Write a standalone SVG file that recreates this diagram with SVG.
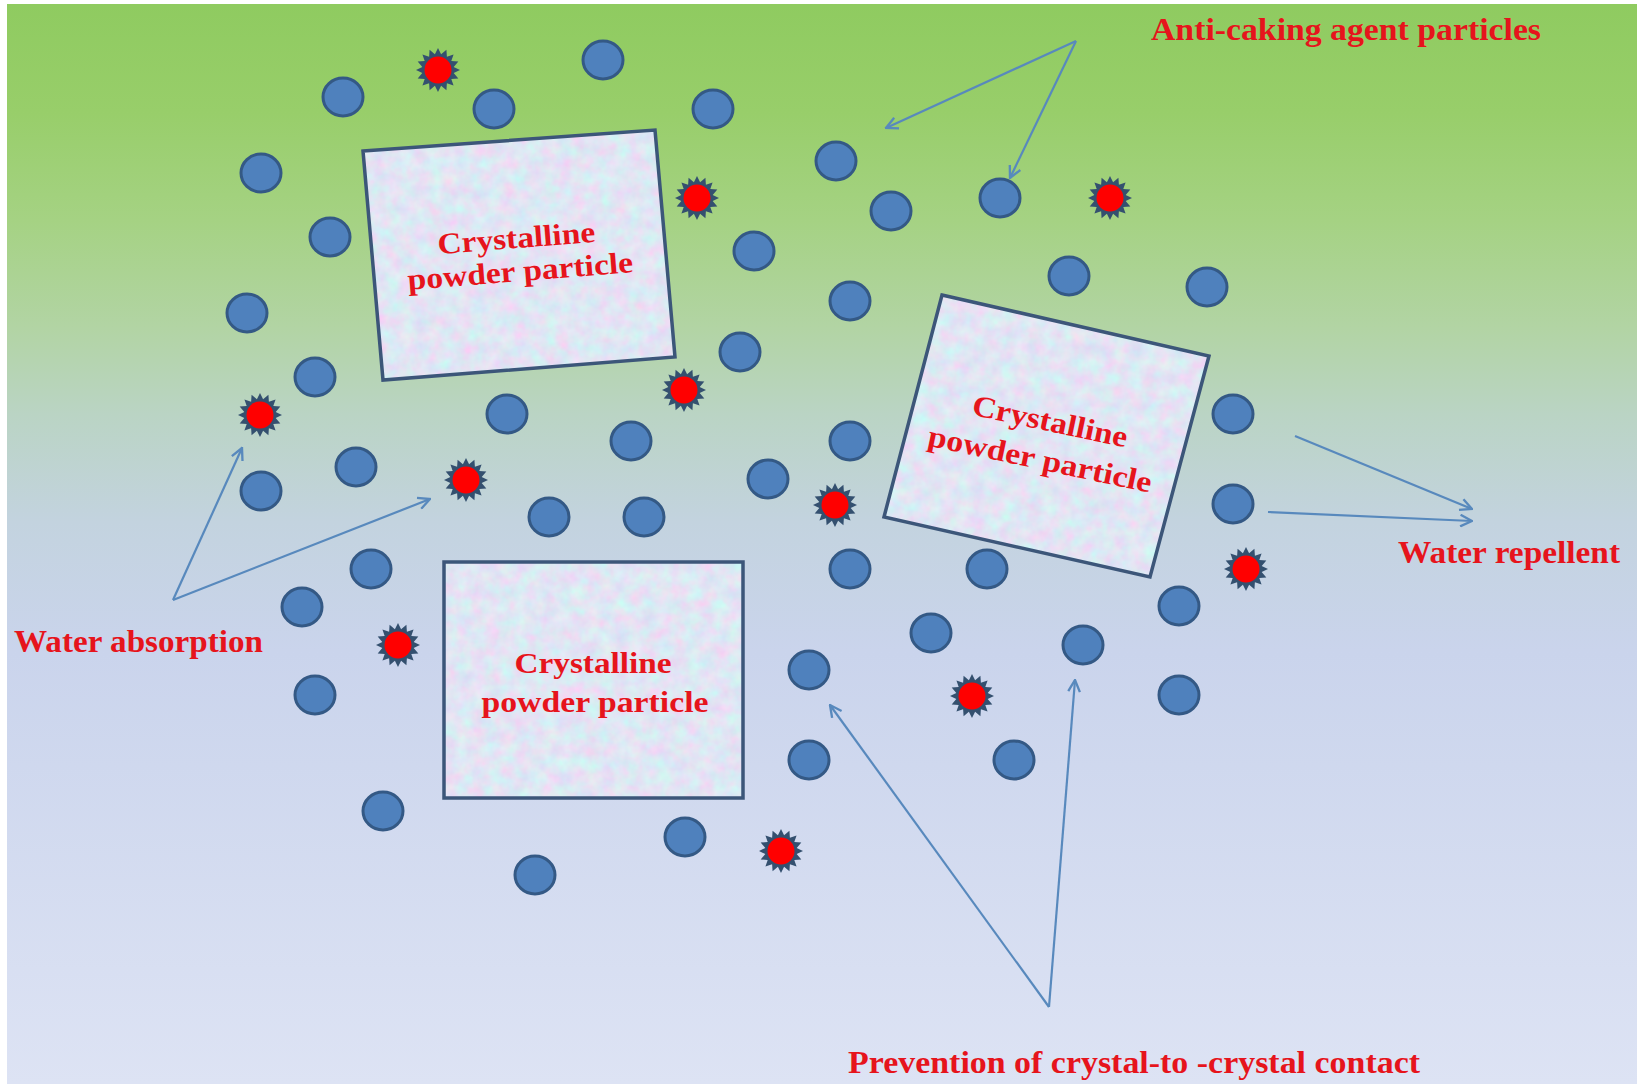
<svg xmlns="http://www.w3.org/2000/svg" xmlns:xlink="http://www.w3.org/1999/xlink" width="1637" height="1084" viewBox="0 0 1637 1084">
<defs>
<style>
.bg{fill:url(#bgGrad)}
.dot{fill:#4f81bd;stroke:#345985;stroke-width:3}
.spikes{fill:#34506f}
.core{fill:#ff0000}
.boxfill{filter:url(#tex);fill:#dde5f5}
.boxline{fill:none;stroke:#3c5679;stroke-width:3.5;stroke-linejoin:miter}
.lbl{font-family:"Liberation Serif","Times New Roman",serif;font-weight:bold;fill:#e6141c}
.box-t{font-size:30px;text-anchor:middle}
.big{font-size:31px}
.conn{fill:none;stroke:#5889bd;stroke-width:2.2;marker-end:url(#arr)}
</style>
<linearGradient id="bgGrad" gradientUnits="userSpaceOnUse" x1="0" y1="4" x2="0" y2="1084">
<stop offset="0" stop-color="#8fcb60"/>
<stop offset="0.1" stop-color="#98ce6a"/>
<stop offset="0.2" stop-color="#a5d283"/>
<stop offset="0.3" stop-color="#b2d4a4"/>
<stop offset="0.38" stop-color="#bad4c4"/>
<stop offset="0.48" stop-color="#c3d3df"/>
<stop offset="0.6" stop-color="#cad4ec"/>
<stop offset="1" stop-color="#dde3f4"/>
</linearGradient>
<filter id="tex" x="0" y="0" width="1" height="1" color-interpolation-filters="sRGB">
<feTurbulence type="fractalNoise" baseFrequency="0.07" numOctaves="3" seed="5" result="n"/>
<feColorMatrix in="n" type="matrix" values="0.2 -0.1 0 0 0.83  -0.08 0.18 0 0 0.85  0 0 0.05 0 0.93  0 0 0 0 1" result="c"/>
<feComposite in="c" in2="SourceGraphic" operator="in"/>
</filter>
<marker id="arr" viewBox="0 0 12 12" refX="11" refY="6" markerWidth="14" markerHeight="14" markerUnits="userSpaceOnUse" orient="auto">
<path d="M1,1 L11,6 L1,11" fill="none" stroke="#5889bd" stroke-width="2"/>
</marker>
<g id="star">
<polygon class="spikes" points="22,0 15.69,3.12 20.33,8.42 13.3,8.89 15.56,15.56 8.89,13.3 8.42,20.33 3.12,15.69 0,22 -3.12,15.69 -8.42,20.33 -8.89,13.3 -15.56,15.56 -13.3,8.89 -20.33,8.42 -15.69,3.12 -22,0 -15.69,-3.12 -20.33,-8.42 -13.3,-8.89 -15.56,-15.56 -8.89,-13.3 -8.42,-20.33 -3.12,-15.69 0,-22 3.12,-15.69 8.42,-20.33 8.89,-13.3 15.56,-15.56 13.3,-8.89 20.33,-8.42 15.69,-3.12"/>
<circle class="core" r="13.5"/>
</g>
</defs>

<rect x="0" y="0" width="1637" height="1084" fill="#ffffff"/>
<rect class="bg" x="7" y="4" width="1630" height="1080"/>

<g id="water-dots">
<ellipse class="dot" cx="603" cy="60" rx="20" ry="19"/>
<ellipse class="dot" cx="343" cy="97" rx="20" ry="19"/>
<ellipse class="dot" cx="494" cy="109" rx="20" ry="19"/>
<ellipse class="dot" cx="713" cy="109" rx="20" ry="19"/>
<ellipse class="dot" cx="261" cy="173" rx="20" ry="19"/>
<ellipse class="dot" cx="836" cy="161" rx="20" ry="19"/>
<ellipse class="dot" cx="891" cy="211" rx="20" ry="19"/>
<ellipse class="dot" cx="1000" cy="198" rx="20" ry="19"/>
<ellipse class="dot" cx="330" cy="237" rx="20" ry="19"/>
<ellipse class="dot" cx="754" cy="251" rx="20" ry="19"/>
<ellipse class="dot" cx="247" cy="313" rx="20" ry="19"/>
<ellipse class="dot" cx="850" cy="301" rx="20" ry="19"/>
<ellipse class="dot" cx="1069" cy="276" rx="20" ry="19"/>
<ellipse class="dot" cx="1207" cy="287" rx="20" ry="19"/>
<ellipse class="dot" cx="740" cy="352" rx="20" ry="19"/>
<ellipse class="dot" cx="315" cy="377" rx="20" ry="19"/>
<ellipse class="dot" cx="507" cy="414" rx="20" ry="19"/>
<ellipse class="dot" cx="631" cy="441" rx="20" ry="19"/>
<ellipse class="dot" cx="850" cy="441" rx="20" ry="19"/>
<ellipse class="dot" cx="1233" cy="414" rx="20" ry="19"/>
<ellipse class="dot" cx="356" cy="467" rx="20" ry="19"/>
<ellipse class="dot" cx="261" cy="491" rx="20" ry="19"/>
<ellipse class="dot" cx="768" cy="479" rx="20" ry="19"/>
<ellipse class="dot" cx="549" cy="517" rx="20" ry="19"/>
<ellipse class="dot" cx="644" cy="517" rx="20" ry="19"/>
<ellipse class="dot" cx="1233" cy="504" rx="20" ry="19"/>
<ellipse class="dot" cx="371" cy="569" rx="20" ry="19"/>
<ellipse class="dot" cx="850" cy="569" rx="20" ry="19"/>
<ellipse class="dot" cx="987" cy="569" rx="20" ry="19"/>
<ellipse class="dot" cx="302" cy="607" rx="20" ry="19"/>
<ellipse class="dot" cx="1179" cy="606" rx="20" ry="19"/>
<ellipse class="dot" cx="931" cy="633" rx="20" ry="19"/>
<ellipse class="dot" cx="1083" cy="645" rx="20" ry="19"/>
<ellipse class="dot" cx="809" cy="670" rx="20" ry="19"/>
<ellipse class="dot" cx="315" cy="695" rx="20" ry="19"/>
<ellipse class="dot" cx="1179" cy="695" rx="20" ry="19"/>
<ellipse class="dot" cx="809" cy="760" rx="20" ry="19"/>
<ellipse class="dot" cx="1014" cy="760" rx="20" ry="19"/>
<ellipse class="dot" cx="383" cy="811" rx="20" ry="19"/>
<ellipse class="dot" cx="685" cy="837" rx="20" ry="19"/>
<ellipse class="dot" cx="535" cy="875" rx="20" ry="19"/>
</g>

<g id="anticaking-stars">
<use href="#star" x="438" y="70"/>
<use href="#star" x="697" y="198"/>
<use href="#star" x="1110" y="198"/>
<use href="#star" x="684" y="390"/>
<use href="#star" x="260" y="415"/>
<use href="#star" x="466" y="480"/>
<use href="#star" x="835" y="505"/>
<use href="#star" x="1246" y="569"/>
<use href="#star" x="398" y="645"/>
<use href="#star" x="972" y="696"/>
<use href="#star" x="781" y="851"/>
</g>

<g id="crystal1">
<polygon class="boxfill" points="363,151 655,130 675,357 383,380"/>
<polygon class="boxline" points="363,151 655,130 675,357 383,380"/>
<text class="lbl box-t" transform="translate(517,248) rotate(-4.5)" textLength="158" lengthAdjust="spacingAndGlyphs">Crystalline</text>
<text class="lbl box-t" transform="translate(521,281) rotate(-4.5)" textLength="226" lengthAdjust="spacingAndGlyphs">powder particle</text>
</g>

<g id="crystal2">
<polygon class="boxfill" points="942,295 1209,356 1150,577 884,517"/>
<polygon class="boxline" points="942,295 1209,356 1150,577 884,517"/>
<text class="lbl box-t" transform="translate(1048,431) rotate(12)" textLength="158" lengthAdjust="spacingAndGlyphs">Crystalline</text>
<text class="lbl box-t" transform="translate(1038,469) rotate(12)" textLength="228" lengthAdjust="spacingAndGlyphs">powder particle</text>
</g>

<g id="crystal3">
<polygon class="boxfill" points="444,562 743,562 743,798 444,798"/>
<polygon class="boxline" points="444,562 743,562 743,798 444,798"/>
<text class="lbl box-t" x="593" y="673" textLength="157" lengthAdjust="spacingAndGlyphs">Crystalline</text>
<text class="lbl box-t" x="595" y="712" textLength="227" lengthAdjust="spacingAndGlyphs">powder particle</text>
</g>

<g id="labels">
<text id="lbl-anticaking" class="lbl big" x="1151" y="40" textLength="390" lengthAdjust="spacingAndGlyphs">Anti-caking agent particles</text>
<text id="lbl-repellent" class="lbl big" x="1398" y="563" textLength="222" lengthAdjust="spacingAndGlyphs">Water repellent</text>
<text id="lbl-absorption" class="lbl big" x="14" y="652" textLength="249" lengthAdjust="spacingAndGlyphs">Water absorption</text>
<text id="lbl-prevention" class="lbl big" x="848" y="1073" textLength="572" lengthAdjust="spacingAndGlyphs">Prevention of crystal-to -crystal contact</text>
</g>

<g id="connectors">
<path class="conn" d="M1076,41 L886,128"/>
<path class="conn" d="M1076,41 L1010,178"/>
<path class="conn" d="M173,600 L242,448"/>
<path class="conn" d="M173,600 L430,499"/>
<path class="conn" d="M1295,436 L1472,509"/>
<path class="conn" d="M1268,512 L1472,521"/>
<path class="conn" d="M1049,1007 L830,705"/>
<path class="conn" d="M1049,1007 L1075,680"/>
</g>
</svg>
